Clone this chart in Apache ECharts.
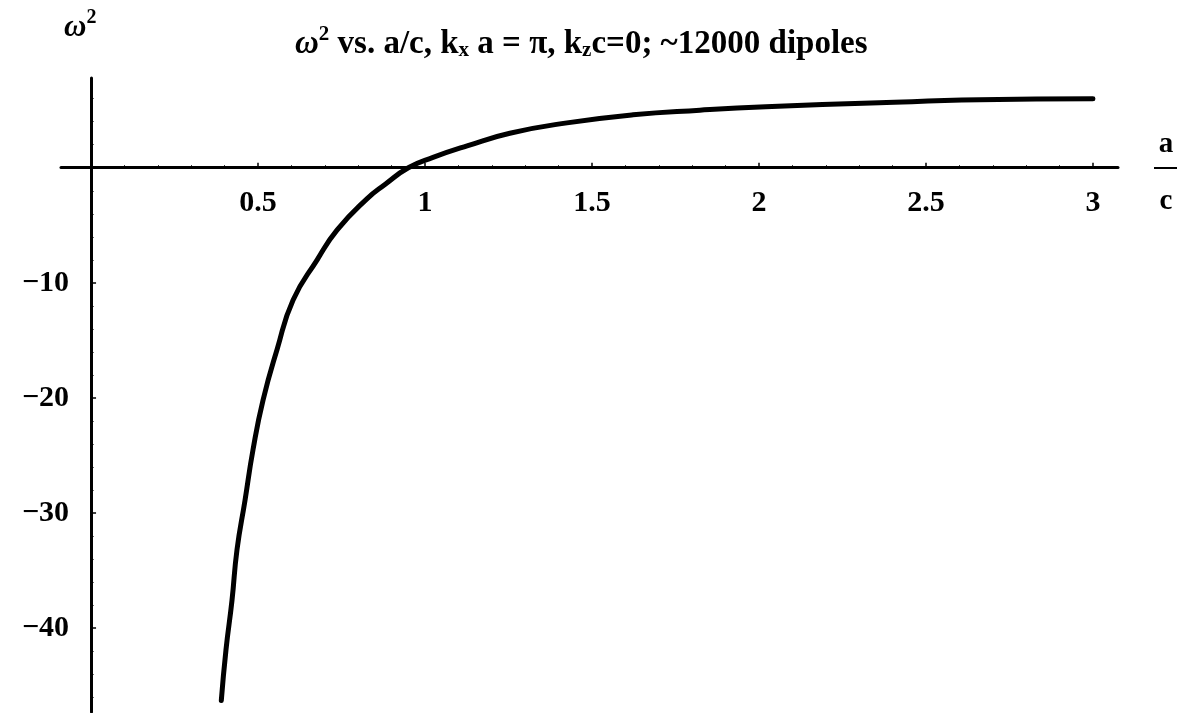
<!DOCTYPE html>
<html>
<head>
<meta charset="utf-8">
<script src="https://cdn.jsdelivr.net/npm/echarts@6/dist/echarts.min.js"></script>
<style>
  html, body { margin: 0; padding: 0; background: #fff; }
  #chart { width: 1185px; height: 713px; }
</style>
</head>
<body>
<div id="chart"></div>
<script>
// ω² versus the lattice ratio a/c (kx·a = π, kz·c = 0)
const ratioAC = [0.39, 0.404, 0.422, 0.437, 0.461, 0.485, 0.515, 0.557, 0.605, 0.677, 0.737, 0.826, 0.88, 0.95, 1.024, 1.126, 1.254, 1.425, 1.623, 1.823, 2.02, 2.36, 2.66, 3.0];
const omegaSq = [-46.3, -41.9, -37.6, -33.2, -28.9, -24.5, -20.2, -15.8, -11.5, -8.0, -5.4, -2.7, -1.45, 0, 0.9, 1.9, 3.0, 3.9, 4.6, 5.0, 5.3, 5.65, 5.9, 6.0];

// axis ticks and their labels
const xTickValues = [0.5, 1, 1.5, 2, 2.5, 3];
const xTickLabels = ['0.5', '1', '1.5', '2', '2.5', '3'];
const yTickValues = [-40, -30, -20, -10];
const yTickLabels = ['\u221240', '\u221230', '\u221220', '\u221210'];
const xMinorTicks = [0.1, 0.2, 0.3, 0.4, 0.6, 0.7, 0.8, 0.9, 1.1, 1.2, 1.3, 1.4, 1.6, 1.7, 1.8, 1.9, 2.1, 2.2, 2.3, 2.4, 2.6, 2.7, 2.8, 2.9];
const yMinorTicks = [-46, -44, -42, -38, -36, -34, -32, -28, -26, -24, -22, -18, -16, -14, -12, -8, -6, -4, -2, 2, 4, 6];

const SERIF = '"Liberation Serif", "DejaVu Serif", serif';
const INK = '#000';
const GRID = { left: 61, right: 67, top: 78, bottom: 1 };
const X_RANGE = [-0.09, 3.075];
const Y_RANGE = [-47.3, 7.8];

const points = ratioAC.map((x, i) => [x, omegaSq[i]]);

const chart = echarts.init(document.getElementById('chart'), null, { renderer: 'canvas' });

const txt = { fontFamily: SERIF, fontWeight: 'bold', fontSize: 33, color: INK };
const titleRich = {
  t: txt,
  w: Object.assign({}, txt, { fontStyle: 'italic' }),
  sup: Object.assign({}, txt, { fontSize: 21, padding: [0, 0, 20, 0] }),
  sub: Object.assign({}, txt, { fontSize: 21, padding: [13, 0, 0, 0] })
};
const tickFont = { fontFamily: SERIF, fontWeight: 'bold', fontSize: 30, color: INK };

// axes cross at the origin: shift each axis from the grid edge to the zero line
function axesAt(xOffset, yOffset) {
  return {
    xAxis: [
      {
        type: 'value', min: X_RANGE[0], max: X_RANGE[1], position: 'bottom', offset: xOffset,
        axisLine: { show: true, onZero: false, lineStyle: { color: INK, width: 3 } },
        axisTick: { show: true, inside: true, length: 5, customValues: xTickValues, lineStyle: { color: INK, width: 1.5 } },
        axisLabel: Object.assign({
          customValues: xTickValues,
          formatter: v => xTickLabels[xTickValues.indexOf(v)],
          margin: 21
        }, tickFont),
        splitLine: { show: false }
      },
      {
        type: 'value', min: X_RANGE[0], max: X_RANGE[1], position: 'bottom', offset: xOffset,
        axisLine: { show: false, onZero: false },
        axisTick: { show: true, inside: true, length: 2.5, customValues: xMinorTicks, lineStyle: { color: INK, width: 1 } },
        axisLabel: { show: false },
        splitLine: { show: false }
      }
    ],
    yAxis: [
      {
        type: 'value', min: Y_RANGE[0], max: Y_RANGE[1], position: 'left', offset: yOffset,
        axisLine: { show: true, onZero: false, lineStyle: { color: INK, width: 3 } },
        axisTick: { show: true, inside: true, length: 5, customValues: yTickValues, lineStyle: { color: INK, width: 1.5 } },
        axisLabel: Object.assign({
          customValues: yTickValues,
          formatter: v => yTickLabels[yTickValues.indexOf(v)],
          margin: 22
        }, tickFont),
        splitLine: { show: false }
      },
      {
        type: 'value', min: Y_RANGE[0], max: Y_RANGE[1], position: 'left', offset: yOffset,
        axisLine: { show: false, onZero: false },
        axisTick: { show: true, inside: true, length: 2.5, customValues: yMinorTicks, lineStyle: { color: INK, width: 1 } },
        axisLabel: { show: false },
        splitLine: { show: false }
      }
    ]
  };
}

const base = {
  backgroundColor: '#fff',
  animation: false,
  title: {
    text: '{w|\u03c9}{sup|2}{t| vs. a/c, k}{sub|x}{t| a = \u03c0, k}{sub|z}{t|c=0; ~12000 dipoles}',
    left: 295,
    top: 24,
    padding: 0,
    textStyle: { rich: titleRich }
  },
  grid: Object.assign({ containLabel: false, outerBoundsMode: 'none' }, GRID),
  graphic: [
    {
      // vertical axis name: ω²
      type: 'text',
      left: 64,
      top: 8,
      style: {
        text: '{w|\u03c9}{sup|2}',
        rich: {
          w: Object.assign({}, txt, { fontStyle: 'italic', fontSize: 31 }),
          sup: Object.assign({}, txt, { fontSize: 20, padding: [0, 0, 19, 0] })
        }
      }
    },
    {
      // horizontal axis name: a over c
      type: 'text',
      x: 1166, y: 145,
      style: { text: 'a', fill: INK, font: 'bold 29px ' + SERIF, align: 'center', verticalAlign: 'middle' }
    },
    {
      type: 'rect',
      shape: { x: 1154, y: 167, width: 23, height: 2 },
      style: { fill: INK }
    },
    {
      type: 'text',
      x: 1166, y: 202,
      style: { text: 'c', fill: INK, font: 'bold 29px ' + SERIF, align: 'center', verticalAlign: 'middle' }
    }
  ],
  series: [
    {
      type: 'line',
      xAxisIndex: 0,
      yAxisIndex: 0,
      data: points,
      showSymbol: false,
      smooth: 0.5,
      lineStyle: { color: INK, width: 5, cap: 'round', join: 'round' },
      silent: true
    }
  ]
};

chart.setOption(Object.assign({}, base, axesAt(0, 0)));

// locate the origin through the axis scales and move both axes onto it
const origin = chart.convertToPixel({ xAxisIndex: 0, yAxisIndex: 0 }, [0, 0]);
const gridBottomPx = 713 - GRID.bottom;
const xOffset = -(gridBottomPx - origin[1]);
const yOffset = -(origin[0] - GRID.left);
chart.setOption(axesAt(xOffset, yOffset));
</script>
</body>
</html>
